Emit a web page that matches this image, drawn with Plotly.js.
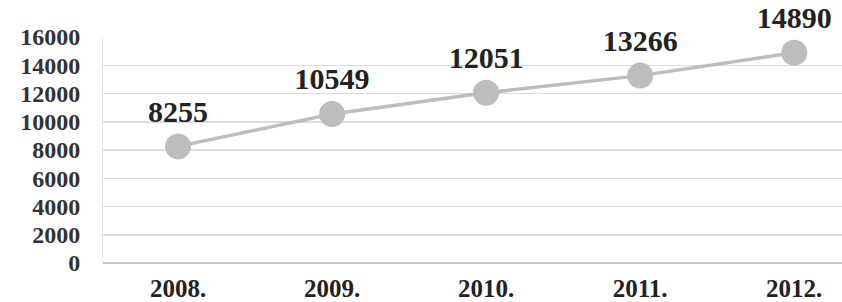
<!DOCTYPE html>
<html>
<head>
<meta charset="utf-8">
<script src="https://cdn.plot.ly/plotly-3.0.1.min.js"></script>
<style>html,body{margin:0;padding:0;background:#fff;}#chart{width:842px;height:302px;}</style>
</head>
<body>
<div id="chart"></div>
<script>
const years = ["2008.", "2009.", "2010.", "2011.", "2012."];
const values = [8255, 10549, 12051, 13266, 14890];
const yTicks = [0, 2000, 4000, 6000, 8000, 10000, 12000, 14000, 16000];

const trace = {
  x: years,
  y: values,
  type: 'scatter',
  mode: 'lines+markers+text',
  text: values.map(String),
  textposition: 'top center',
  textfont: {family: '"Liberation Serif", "Times New Roman", serif', size: 30, color: '#222', weight: 'bold'},
  line: {color: '#bdbdbd', width: 3.5},
  marker: {color: '#bdbdbd', size: 26},
  cliponaxis: false,
  hoverinfo: 'skip'
};

const layout = {
  width: 842, height: 302,
  margin: {l: 103, r: 0, t: 37, b: 39},
  paper_bgcolor: '#fff', plot_bgcolor: '#fff',
  showlegend: false,
  font: {family: '"Liberation Serif", "Times New Roman", serif', color: '#333'},
  xaxis: {
    type: 'category',
    range: [-0.487, 4.31],
    showgrid: false,
    zeroline: false,
    showline: false,
    ticks: '',
    tickfont: {size: 25, color: '#222', weight: 'bold'},
    ticklabelstandoff: 8
  },
  yaxis: {
    range: [0, 16000],
    tickvals: yTicks,
    ticktext: yTicks.map(String),
    showgrid: true,
    gridcolor: '#dcdcdc',
    gridwidth: 1.5,
    zeroline: true,
    zerolinecolor: '#c4c4c4',
    zerolinewidth: 2,
    showline: true,
    linecolor: '#e6e6e6',
    linewidth: 1,
    ticks: '',
    tickfont: {size: 24, color: '#333', weight: 'bold'},
    ticklabelstandoff: 17
  }
};

Plotly.newPlot('chart', [trace], layout, {staticPlot: true, displayModeBar: false});
</script>
</body>
</html>
